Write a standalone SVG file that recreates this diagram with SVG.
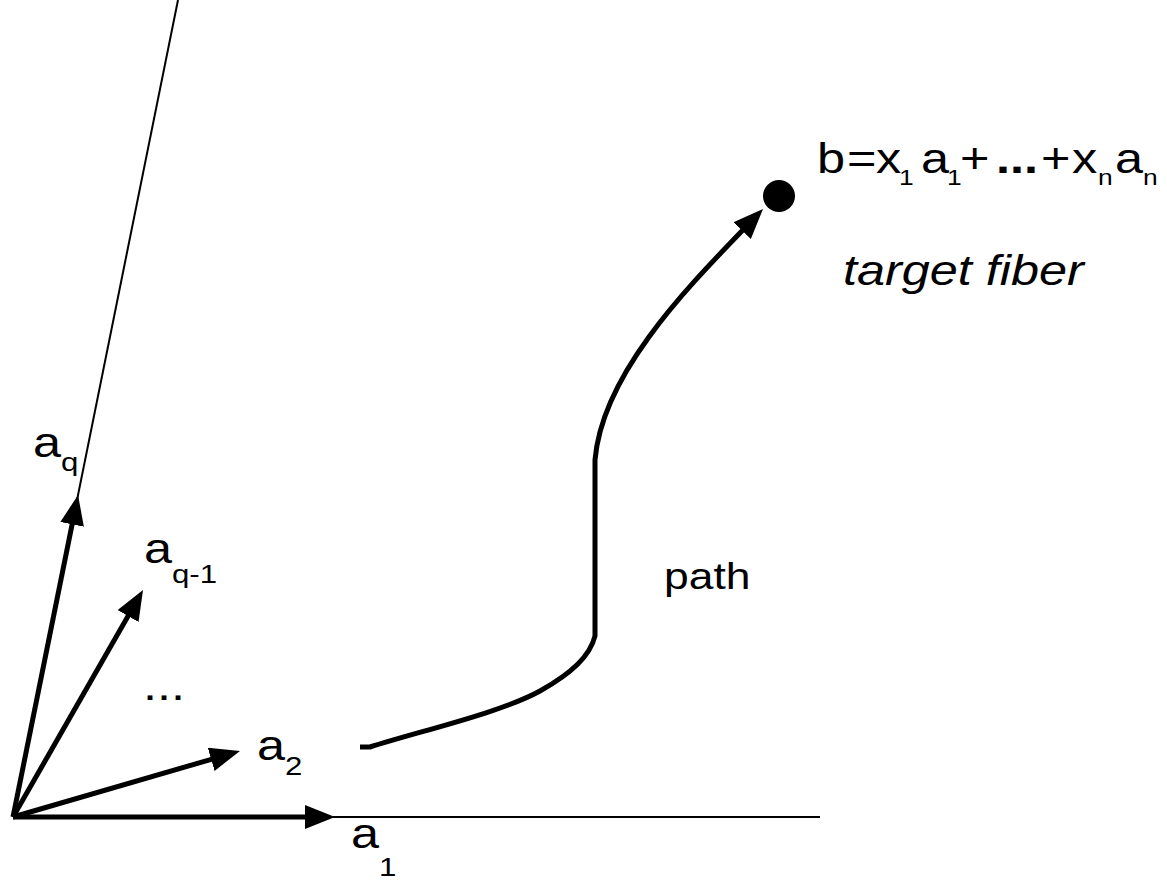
<svg xmlns="http://www.w3.org/2000/svg" width="1167" height="880" viewBox="0 0 1167 880">
<style>
.t{font-family:"Liberation Sans",Arial,Helvetica,sans-serif;fill:#000}
.lbl{font-size:42px}
.sub{font-size:26px}
.bsub{font-size:22px}
.thin{stroke:#000;stroke-width:2;fill:none}
.vec{stroke:#000;stroke-width:5;fill:none;marker-end:url(#ah)}
</style>
<defs>
<marker id="ah" markerUnits="userSpaceOnUse" markerWidth="32" markerHeight="26" refX="2" refY="12" orient="auto">
<path d="M0,0 L30,12 L0,24 Z" fill="#000"/>
</marker>
</defs>
<rect width="1167" height="880" fill="#fff"/>
<g id="connectors">
<line class="thin" x1="13" y1="817" x2="820" y2="817"/>
<line class="thin" x1="13" y1="817" x2="178" y2="0"/>
<line class="vec" x1="13" y1="817" x2="307" y2="817"/>
<line class="vec" x1="13" y1="817" x2="213.1" y2="758.8"/>
<line class="vec" x1="13" y1="817" x2="129.1" y2="614.3"/>
<line class="vec" x1="13" y1="817" x2="72.5" y2="522.4"/>
<path id="path-curve" class="vec" d="M360,747 L370,747 C420,731 500,713 540,691 C572,673 590,656 595,636 L595,460 C602,375 685,290 743.6,229.2"/>
</g>
<g id="node-b">
<circle cx="779" cy="196" r="16" fill="#000"/>
<text class="t lbl" transform="translate(817,173) scale(1.2,1)"><tspan x="0" y="0">b</tspan><tspan x="25" y="0">=</tspan><tspan x="49.2" y="0">x</tspan><tspan class="bsub" x="68.3" y="12">1</tspan><tspan x="86.7" y="0">a</tspan><tspan class="bsub" x="108.3" y="12">1</tspan><tspan x="119.2" y="0">+</tspan><tspan x="149.2" y="0" font-weight="bold">...</tspan><tspan x="186.7" y="0">+</tspan><tspan x="212.5" y="0">x</tspan><tspan class="bsub" x="234.2" y="12">n</tspan><tspan x="248.3" y="0">a</tspan><tspan class="bsub" x="271.7" y="12">n</tspan></text>
<text class="t" font-size="42" font-style="italic" transform="translate(843,285) scale(1.2,1)">target fiber</text>
</g>
<g id="label-path">
<text class="t" font-size="37" transform="translate(664,589) scale(1.2,1)">path</text>
</g>
<g id="node-aq">
<text class="t lbl" transform="translate(33,457) scale(1.2,1)">a<tspan class="sub" dy="14">q</tspan></text>
</g>
<g id="node-aq1">
<text class="t lbl" transform="translate(144,563) scale(1.2,1)">a<tspan class="sub" dy="20">q-1</tspan></text>
</g>
<g id="node-dots">
<text class="t lbl" transform="translate(143,700) scale(1.2,1)">...</text>
</g>
<g id="node-a2">
<text class="t lbl" transform="translate(257,760) scale(1.2,1)">a<tspan class="sub" dy="15">2</tspan></text>
</g>
<g id="node-a1">
<text class="t lbl" transform="translate(351,848) scale(1.2,1)">a<tspan class="sub" dy="28">1</tspan></text>
</g>
</svg>
